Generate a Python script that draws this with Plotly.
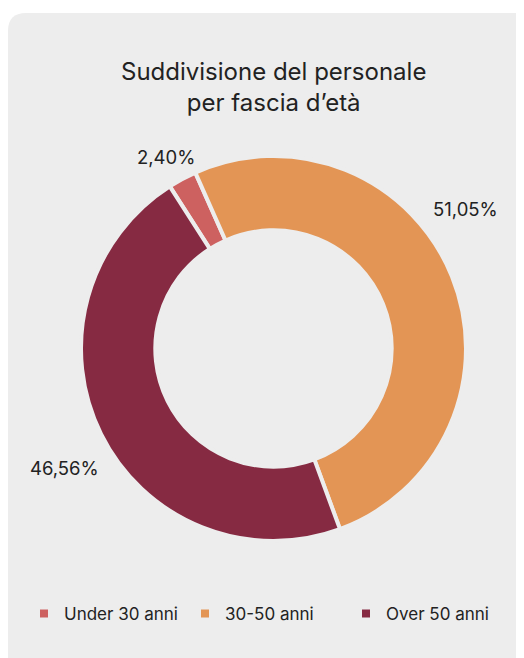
import plotly.graph_objects as go

labels = ["Under 30 anni", "30-50 anni", "Over 50 anni"]
values = [2.40, 51.05, 46.56]
colors = ["#cd6160", "#e39555", "#862a42"]
title_lines = ["Suddivisione del personale", "per fascia d\u2019et\u00e0"]

# the page body has an 8px margin, so the figure starts at (8, 8)
OFF = 8
W, H = 524 - OFF, 658 - OFF
BG = "#ededed"
TXT = "#222222"
FONT = "Inter, 'Open Sans', sans-serif"


def px(x):
    return (x - OFF) / W


def py(y):
    return 1 - (y - OFF) / H


fig = go.Figure()
fig.add_trace(go.Pie(
    labels=labels,
    values=values,
    hole=0.614,
    sort=False,
    direction="clockwise",
    rotation=-32.6,
    textinfo="none",
    marker=dict(colors=colors, line=dict(color=BG, width=4)),
    domain=dict(x=[px(81), px(466)], y=[py(541), py(156)]),
    hoverinfo="label+percent",
))


def fmt(v):
    return f"{v:.2f}".replace(".", ",") + "%"


label_pos = [(166, 157), (465, 209), (64, 468)]
annotations = []
for v, (x, y) in zip(values, label_pos):
    annotations.append(dict(
        x=px(x), y=py(y), xref="paper", yref="paper", text=fmt(v),
        showarrow=False, font=dict(size=18.5, color=TXT, family=FONT),
        xanchor="center", yanchor="middle"))

annotations.append(dict(
    x=px(273), y=py(87), xref="paper", yref="paper",
    text="<br>".join(title_lines), showarrow=False,
    font=dict(size=24, color=TXT, family=FONT),
    xanchor="center", yanchor="middle", align="center"))

# rounded background panel
x0, y0 = px(8), py(13)
x1, y1 = px(560), py(700)
rx, ry = px(8 + 18) - x0, y0 - py(13 + 18)
path = (f"M {x0},{y1} L {x0},{y0 - ry} Q {x0},{y0} {x0 + rx},{y0} "
        f"L {x1},{y0} L {x1},{y1} Z")

fig.update_layout(
    width=W, height=H,
    margin=dict(l=0, r=0, t=0, b=0),
    paper_bgcolor="white",
    showlegend=True,
    legend=dict(
        orientation="h", x=px(24), y=py(614), xanchor="left", yanchor="middle",
        font=dict(size=17, color=TXT, family=FONT),
        bgcolor="rgba(0,0,0,0)", traceorder="normal",
        entrywidth=116, entrywidthmode="pixels",
    ),
    annotations=annotations,
    shapes=[dict(type="path", path=path, xref="paper", yref="paper",
                 fillcolor=BG, line=dict(width=0), layer="below")],
)

fig.write_html("out.html")
